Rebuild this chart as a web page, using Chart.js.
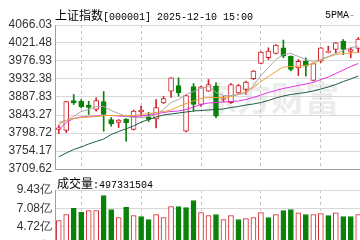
<!DOCTYPE html>
<html>
<head>
<meta charset="utf-8">
<script src="https://cdn.jsdelivr.net/npm/chart.js@4.4.0/dist/chart.umd.min.js"></script>
<style>
html, body { margin: 0; padding: 0; background: #fff; width: 360px; height: 240px; overflow: hidden; position: relative; }
.t { position: absolute; white-space: nowrap; color: #000; line-height: 14px; }
.cn { font: 12px "Noto Sans CJK SC"; }
.mono { font: 10px "Liberation Mono"; }
#wm { position: absolute; left: 203px; top: 72px; font: bold 34px "Noto Sans CJK SC"; color: #ececec; white-space: nowrap; }
#priceCanvas { position: absolute; left: 0; top: 0; }
#volCanvas { position: absolute; left: 0; top: 176px; }
</style>
</head>
<body>
<div id="wm">东方财富</div>
<canvas id="priceCanvas" width="362" height="180" style="width:362px;height:180px"></canvas>
<canvas id="volCanvas" width="362" height="100" style="width:362px;height:100px"></canvas>
<div class="t" style="left:55px;top:6px"><span class="cn">上证指数</span><span class="mono">[000001] 2025-12-10 15:00</span></div>
<div class="t" style="left:325px;top:6px"><span class="mono">5PMA</span><span class="mono" style="color:#999">-</span></div>
<div class="t" style="left:57px;top:174px"><span class="cn">成交量</span><span class="mono">:497331504</span></div>
<script>
// trading days (index only, no dates shown on the picture)
const days = ['1','2','3','4','5','6','7','8','9','10','11','12','13','14','15','16','17','18','19','20',
  '21','22','23','24','25','26','27','28','29','30','31','32','33','34','35','36','37','38','39','40','41'];

const opens = [3807.4,3804.9,3879.2,3877.4,3868.0,3856.9,3876.7,3832.1,3824.7,3833.4,3807.4,3851.2,3838.8,3833.4,3873.0,3902.2,3916.3,3803.2,3913.8,3869.3,
  3902.2,3914.6,3881.6,3873.5,3898.2,3906.4,3932.9,3970.7,3984.9,3995.5,4009.6,3988.8,3960.1,3976.4,3928.7,3976.4,3998.0,4005.4,4025.9,4000.4,4007.9];
const closes = [3811.6,3876.7,3873.0,3863.6,3861.8,3879.2,3844.5,3821.0,3830.4,3824.0,3852.7,3855.2,3832.1,3861.8,3884.1,3935.4,3898.2,3891.5,3869.3,3913.1,
  3918.8,3840.3,3884.1,3918.8,3916.3,3924.5,3951.7,3999.2,4001.2,4016.5,3988.8,3955.9,3976.4,3964.1,3970.7,4009.6,4001.2,4022.0,4005.4,4005.4,4031.4];
const highs = [3817.3,3877.4,3894.0,3881.6,3877.4,3885.9,3901.4,3837.1,3832.1,3834.6,3855.7,3865.1,3849.5,3881.6,3889.1,3936.1,3935.4,3892.8,3921.2,3914.6,
  3931.1,3923.0,3889.1,3921.2,3918.8,3927.4,3953.4,4000.4,4009.6,4017.8,4028.9,3989.3,3980.6,3984.9,3972.0,4010.3,4013.6,4022.7,4030.1,4009.6,4035.1];
const lows = [3797.5,3800.0,3869.3,3861.1,3844.5,3852.7,3803.2,3815.6,3812.3,3778.4,3806.2,3842.0,3827.2,3811.6,3871.7,3886.6,3889.8,3801.2,3852.7,3864.3,
  3901.4,3836.4,3876.7,3871.7,3896.5,3894.0,3931.1,3969.5,3980.6,3994.3,3984.9,3952.2,3941.0,3939.3,3927.4,3973.2,3996.7,3997.2,3993.0,3984.9,3998.0];

// moving average lines
const ma5 = [3824.7,3829.7,3839.6,3851.9,3856.9,3864.3,3864.3,3854.4,3847.0,3839.6,3837.1,3837.1,3839.6,3844.5,3856.9,3874.2,3881.6,3894.0,3901.4,3908.9,
  3913.8,3899.0,3891.5,3891.5,3894.0,3896.5,3916.3,3941.0,3960.8,3980.6,3993.0,3995.5,3988.1,3980.6,3975.7,3980.6,3988.1,3995.5,4002.9,4010.3,4012.8];
const ma10 = [3819.8,3829.7,3834.6,3837.1,3838.3,3839.6,3842.0,3842.0,3842.0,3842.0,3842.0,3844.5,3847.0,3849.5,3851.9,3855.7,3864.3,3871.7,3877.9,3884.1,
  3886.6,3886.6,3886.6,3889.1,3894.0,3901.4,3911.3,3926.2,3938.6,3950.9,3962.1,3963.3,3964.1,3965.8,3970.7,3979.4,3986.8,3993.0,3995.5,3996.7,3998.0];
const ma20 = [3807.4,3824.7,3834.6,3838.3,3839.6,3840.8,3842.0,3842.0,3840.8,3839.6,3839.6,3840.8,3843.3,3845.8,3849.5,3851.9,3853.2,3856.9,3863.1,3869.3,
  3873.0,3874.2,3875.5,3876.7,3877.9,3881.6,3886.6,3892.8,3899.0,3903.9,3908.9,3912.6,3916.3,3920.0,3923.7,3931.1,3937.3,3946.0,3954.7,3963.3,3970.7];
const ma60 = [3739.8,3749.2,3757.9,3764.1,3771.5,3777.7,3783.9,3795.0,3802.4,3809.1,3816.1,3825.5,3832.1,3838.3,3843.3,3845.8,3848.2,3850.7,3853.2,3854.4,
  3855.7,3856.9,3858.1,3861.8,3864.3,3868.0,3870.5,3874.2,3879.2,3885.4,3890.3,3894.0,3896.5,3899.0,3902.7,3907.6,3912.6,3918.8,3926.2,3932.4,3939.8];

// volume in 亿 (1e8 shares), and whether the bar is drawn red (1) or green (0)
const volumes = [5.54,6.31,7.11,6.60,6.82,6.82,8.73,6.94,5.93,7.23,6.18,6.05,5.67,6.31,5.93,7.33,7.33,7.20,8.09,6.56,
  6.18,6.31,5.67,6.18,5.67,5.80,5.93,6.56,5.93,6.31,6.82,6.94,6.52,6.31,6.31,6.43,6.18,6.52,6.05,6.05,6.31];
const volUp = [1,1,0,0,1,1,0,0,1,0,1,0,0,1,1,1,0,0,0,1,1,0,1,1,0,1,1,1,0,1,0,0,1,0,1,1,0,1,0,0,1];

const priceTickLabels = ['3709.62','3754.17','3798.72','3843.27','3887.83','3932.38','3976.93','4021.48','4066.03'];
const volTickLabels = ['0','2.36亿','4.72亿','7.08亿','9.43亿'];

const RED = '#d2232a';
const GREEN = '#0a820a';
const tickFont = { family: '"Liberation Sans", Arial', size: 12 };
const xGridIdx = [3, 11, 19, 27, 35];

const up = closes.map((c, i) => c >= opens[i]);

function xScale() {
  return {
    offset: true,
    grid: { display: true, offset: false, color: '#c4c4c4', drawTicks: false },
    border: { display: true, color: '#a0a0a0', dash: [3, 3] },
    ticks: { display: false },
    afterBuildTicks: s => { s.ticks = xGridIdx.map(v => ({ value: v })); }
  };
}

new Chart(document.getElementById('priceCanvas'), {
  type: 'bar',
  data: {
    labels: days,
    datasets: [
      { type: 'line', data: ma5, borderColor: '#a8a8a8', borderWidth: 1, pointRadius: 0, order: 0 },
      { type: 'line', data: ma10, borderColor: '#f0a030', borderWidth: 1, pointRadius: 0, order: 0 },
      { type: 'line', data: ma20, borderColor: '#e030e0', borderWidth: 1, pointRadius: 0, order: 0 },
      { type: 'line', data: ma60, borderColor: '#1d5e40', borderWidth: 1, pointRadius: 0, order: 0 },
      {
        data: opens.map((o, i) => [o, closes[i]]),
        backgroundColor: up.map(u => u ? '#ffffff' : GREEN),
        borderColor: up.map(u => u ? RED : GREEN),
        borderWidth: 1, borderSkipped: false, barThickness: 5, minBarLength: 1,
        grouped: false, order: 1
      },
      {
        data: lows.map((l, i) => [l, highs[i]]),
        backgroundColor: up.map(u => u ? RED : GREEN),
        borderWidth: 0, barThickness: 1, grouped: false, order: 2
      }
    ]
  },
  options: {
    responsive: false, animation: false,
    layout: { padding: { top: 25, bottom: 11, left: 0, right: 0 } },
    plugins: { legend: { display: false }, tooltip: { enabled: false } },
    scales: {
      x: xScale(),
      y: {
        min: 3709.62, max: 4066.03,
        afterBuildTicks: s => { s.ticks = priceTickLabels.map(v => ({ value: parseFloat(v) })); },
        afterFit: s => { s.width = 55; },
        grid: { color: '#d8d8d8', drawTicks: false },
        border: { display: true, color: '#a0a0a0' },
        ticks: { font: tickFont, color: '#333', padding: 3, callback: (v, i) => priceTickLabels[i] }
      }
    }
  }
});

new Chart(document.getElementById('volCanvas'), {
  type: 'bar',
  data: {
    labels: days,
    datasets: [{
      data: volumes,
      backgroundColor: volUp.map(u => u ? '#ffffff' : GREEN),
      borderColor: volUp.map(u => u ? RED : GREEN),
      borderWidth: 1, borderSkipped: false, barThickness: 5
    }]
  },
  options: {
    responsive: false, animation: false,
    layout: { padding: { top: 14, bottom: 12, left: 0, right: 0 } },
    plugins: { legend: { display: false }, tooltip: { enabled: false } },
    scales: {
      x: xScale(),
      y: {
        min: 0, max: 9.43,
        afterBuildTicks: s => { s.ticks = volTickLabels.map(v => ({ value: parseFloat(v) })); },
        afterFit: s => { s.width = 55; },
        grid: { color: '#d8d8d8', drawTicks: false },
        border: { display: true, color: '#a0a0a0' },
        ticks: { font: tickFont, color: '#333', padding: 3, callback: (v, i) => volTickLabels[i] }
      }
    }
  }
});
</script>
</body>
</html>
